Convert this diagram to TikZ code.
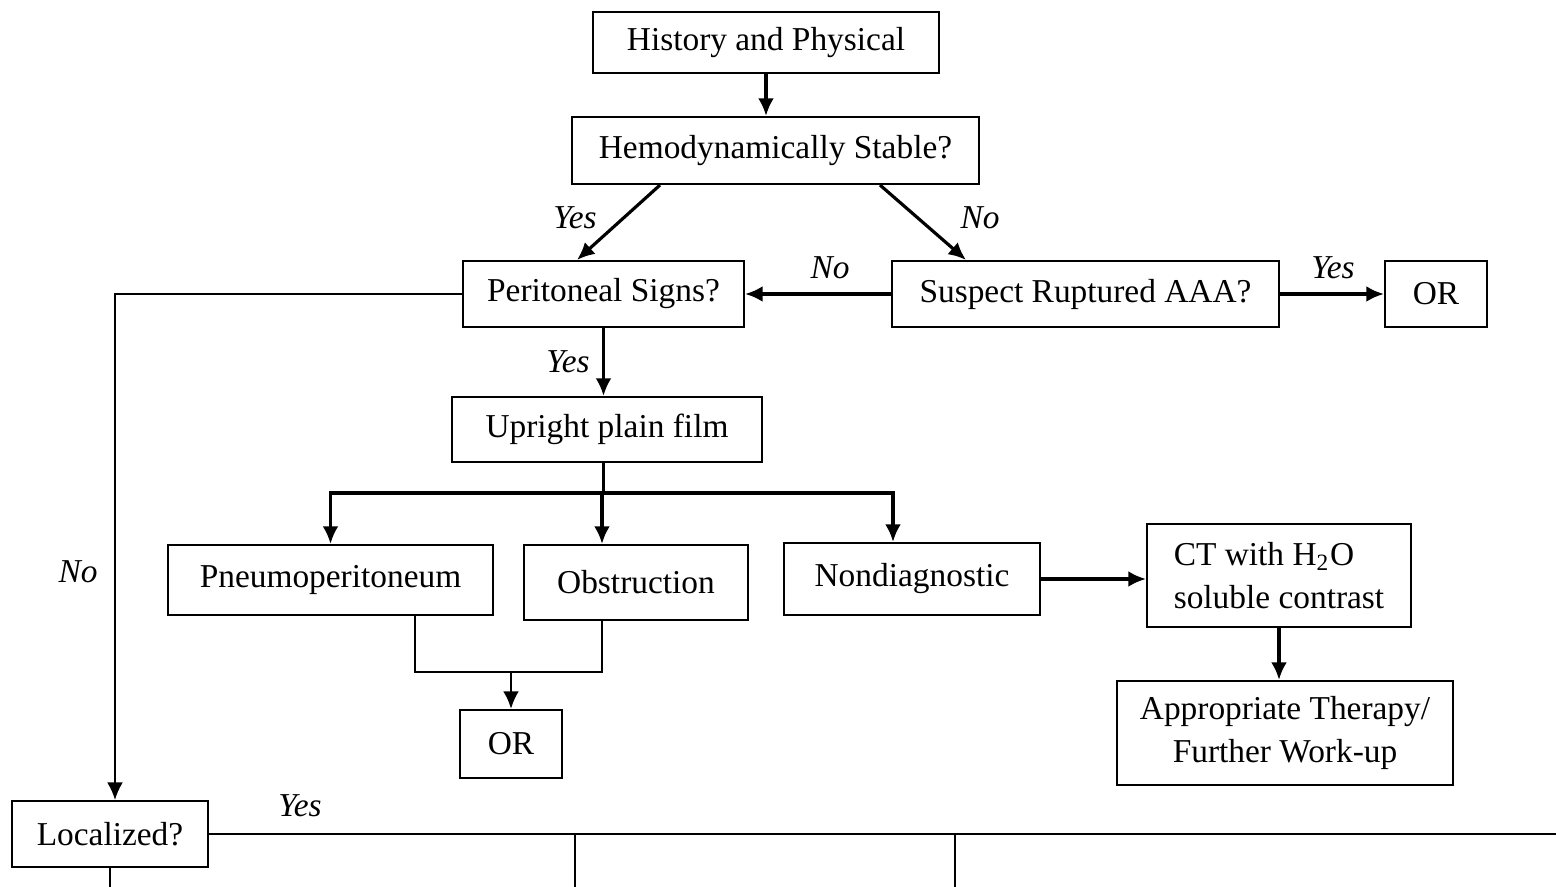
\documentclass[tikz,border=0pt]{standalone}
\usepackage{fontspec}
\setmainfont{Liberation Serif}
\usetikzlibrary{arrows.meta}
\tikzset{
  box/.style={draw, line width=0.6pt, minimum height=0.66cm, inner sep=2pt},
  arr/.style={-{Latex[length=5pt,width=4.5pt]}, line width=0.9pt},
  thinline/.style={line width=0.5pt},
  lbl/.style={font=\fontsize{9.5}{12}\itshape},
}

\begin{document}
\begin{tikzpicture}[font=\fontsize{9.5}{12}\selectfont]
  \useasboundingbox (0,0) rectangle (15.56,-8.87);
  \draw
    (7.66,-0.425) node[box, minimum width=3.46cm, minimum height=0.61cm] (hist){History and Physical}
    (7.755,-1.505) node[box, minimum width=4.07cm, minimum height=0.67cm] (hemo){Hemodynamically Stable?}
    (6.035,-2.94) node[box, minimum width=2.81cm] (perit){Peritoneal Signs?}
    (10.855,-2.94) node[box, minimum width=3.87cm] (aaa){Suspect Ruptured AAA?}
    (14.36,-2.94) node[box, minimum width=1.02cm] (or1){OR}
    (6.07,-4.295) node[box, minimum width=3.10cm, minimum height=0.65cm] (film){Upright plain film}
    (3.305,-5.80) node[box, minimum width=3.25cm, minimum height=0.70cm] (pneumo){Pneumoperitoneum}
    (6.36,-5.825) node[box, minimum width=2.24cm, minimum height=0.75cm] (obstr){Obstruction}
    (9.12,-5.79) node[box, minimum width=2.56cm, minimum height=0.72cm] (nondiag){Nondiagnostic}
    (12.79,-5.755) node[box, minimum width=2.64cm, minimum height=1.03cm, align=left] (ct){CT with H\textsubscript{2}O\\soluble contrast}
    (12.85,-7.33) node[box, minimum width=3.36cm, minimum height=1.04cm, align=center] (ther){Appropriate Therapy/\\Further Work-up}
    (5.11,-7.44) node[box, minimum width=1.02cm, minimum height=0.68cm] (or2){OR}
    (1.10,-8.34) node[box, minimum width=1.96cm] (loc){Localized?};
  % branch labels
  \node[lbl] (yes1) at (5.75,-2.18) {Yes};
  \node[lbl] (no1) at (9.80,-2.18) {No};
  \node[lbl] (no2) at (8.30,-2.68) {No};
  \node[lbl] (yes2) at (13.33,-2.68) {Yes};
  \node[lbl] (yes3) at (5.68,-3.62) {Yes};
  \node[lbl] (no3) at (0.78,-5.72) {No};
  \node[lbl] (yes4) at (3.00,-8.06) {Yes};
  \begin{scope}[arr]
    \draw (hist.south) -- (hist.south |- hemo.north);
    \draw ([xshift=-1.155cm]hemo.south) -- ([xshift=-0.265cm]perit.north);
    \draw ([xshift=1.045cm]hemo.south) -- ([xshift=-1.195cm]aaa.north);
    \draw (aaa) -- (perit);
    \draw (aaa) -- (or1);
    \draw (perit.south) -- (perit.south |- film.north);
    \draw[-] (film.south -| perit.south) -- ++(0,-0.3) coordinate (split);
    \draw (split) -| (pneumo.north);
    \draw (split) -| ([xshift=-0.34cm]obstr.north);
    \draw (split) -| ([xshift=-0.19cm]nondiag.north);
    \draw (nondiag.east) -- (nondiag.east -| ct.west);
    \draw (ct.south) -- (ct.south |- ther.north);
  \end{scope}
  \begin{scope}[thinline]
    \draw[arr, thinline] (perit.west) -| ([xshift=0.05cm]loc.north);
    \coordinate (join) at (5.11,-6.72);
    \draw ([xshift=0.845cm]pneumo.south) |- (join) -| ([xshift=-0.34cm]obstr.south);
    \draw[arr, line width=0.7pt] (join) -- (or2.north);
    \coordinate (rim) at (15.56,-8.34);
    \coordinate (drop1) at (5.75,-8.87);
    \coordinate (drop2) at (9.55,-8.87);
    \draw (loc.east) -- (rim);
    \draw (loc.east -| drop1) -- (drop1);
    \draw (loc.east -| drop2) -- (drop2);
    \draw[line width=0.8pt] (loc.south) -- (loc.south |- drop1);
  \end{scope}
\end{tikzpicture}
\end{document}
